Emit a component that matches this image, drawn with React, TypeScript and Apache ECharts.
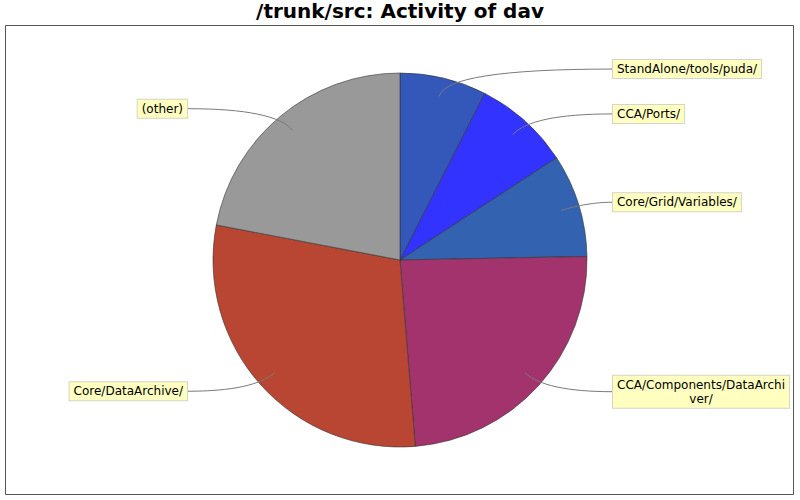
import React, { useEffect, useRef } from 'react';
import * as echarts from 'echarts';

// slices, clockwise from 12 o'clock
const names = [
  'StandAlone/tools/puda/',
  'CCA/Ports/',
  'Core/Grid/Variables/',
  'CCA/Components/DataArchiver/',
  'Core/DataArchive/',
  '(other)',
];
const labelTexts = [
  'StandAlone/tools/puda/',
  'CCA/Ports/',
  'Core/Grid/Variables/',
  'CCA/Components/DataArchi\nver/',
  'Core/DataArchive/',
  '(other)',
];
const values = [7.5, 8.3, 8.9, 24.0, 29.3, 22.0];
const colors = ['#3358BA', '#3333FF', '#3363B0', '#A3336C', '#B84633', '#999999'];

const CX = 400;
const CY = 260;
const R = 187;
const LABEL_GAP = 212;

function midAngles(vals: number[]): number[] {
  const total = vals.reduce((a, b) => a + b, 0);
  let acc = 0;
  return vals.map((v) => {
    const mid = ((acc + v / 2) / total) * Math.PI * 2;
    acc += v;
    return mid;
  });
}

function quadPoints(a: number[], c: number[], e: number[], n = 16): number[][] {
  const pts: number[][] = [];
  for (let i = 0; i <= n; i++) {
    const t = i / n;
    const u = 1 - t;
    pts.push([
      u * u * a[0] + 2 * u * t * c[0] + t * t * e[0],
      u * u * a[1] + 2 * u * t * c[1] + t * t * e[1],
    ]);
  }
  return pts;
}

export default function App() {
  const elRef = useRef<HTMLDivElement | null>(null);

  useEffect(() => {
    document.body.style.margin = '0';
    if (!elRef.current) return;
    const chart = echarts.init(elRef.current, undefined, { renderer: 'svg' });
    const mids = midAngles(values);

    const opt: echarts.EChartsOption = {
      animation: false,
      backgroundColor: '#fff',
      title: {
        text: '/trunk/src: Activity of dav',
        left: 'center',
        top: 1,
        padding: 0,
        textStyle: { fontSize: 20, fontWeight: 'bold', fontFamily: 'DejaVu Sans', color: '#000' },
      },
      graphic: [
        {
          type: 'rect',
          shape: { x: 5.5, y: 25.5, width: 788, height: 469 },
          style: { fill: 'none', stroke: '#555', lineWidth: 1 },
          silent: true,
        },
      ],
      series: [
        {
          type: 'pie',
          center: [CX, CY],
          radius: R,
          startAngle: 90,
          clockwise: true,
          silent: true,
          data: names.map((n, i) => ({ name: n, value: values[i], itemStyle: { color: colors[i] } })),
          itemStyle: { borderColor: '#333', borderWidth: 0.6 },
          emphasis: { disabled: true },
          label: { show: false },
          labelLine: { show: false },
        },
        {
          // transparent overlay carrying the labels so their link lines sit above the slices
          type: 'pie',
          z: 3,
          center: [CX, CY],
          radius: R,
          startAngle: 90,
          clockwise: true,
          silent: true,
          avoidLabelOverlap: false,
          data: names.map((n, i) => ({ name: n, value: values[i] })),
          itemStyle: { color: 'rgba(0,0,0,0)', borderWidth: 0 },
          emphasis: { disabled: true },
          label: {
            show: true,
            position: 'outside',
            formatter: (p: any) => labelTexts[p.dataIndex],
            fontFamily: 'DejaVu Sans',
            fontSize: 12,
            lineHeight: 14,
            color: '#000',
            backgroundColor: '#FFFFC0',
            borderColor: '#d4d4c8',
            borderWidth: 1,
            padding: [2, 4, 2, 4],
          },
          labelLine: {
            show: true,
            smooth: false,
            lineStyle: { color: '#7a7a7a', width: 1 },
          },
          labelLayout: (params: any) => {
            const a = mids[params.dataIndex];
            const s = Math.sin(a);
            const c = Math.cos(a);
            const right = s >= 0;
            const w = params.labelRect.width;
            const y = CY - 1.05 * R * c;
            const edge = right ? CX + LABEL_GAP : CX - LABEL_GAP;
            const x = right ? edge + w / 2 : edge - w / 2;
            const anchor = [CX + 0.9 * R * s, CY - 0.9 * R * c];
            const ctrl = [CX + 1.05 * R * s, y];
            return {
              x,
              y,
              align: 'center',
              verticalAlign: 'middle',
              labelLinePoints: quadPoints(anchor, ctrl, [edge, y]),
            };
          },
        },
      ],
    };

    chart.setOption(opt);
    return () => {
      chart.dispose();
    };
  }, []);

  return <div ref={elRef} style={{ width: 800, height: 500 }} />;
}
